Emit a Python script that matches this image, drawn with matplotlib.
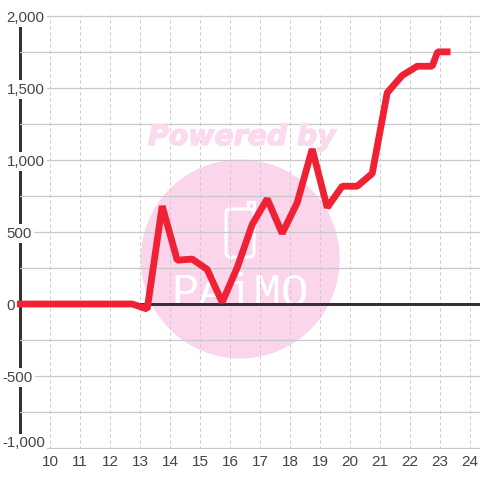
import matplotlib
matplotlib.use("Agg")
import matplotlib.pyplot as plt
import matplotlib.patheffects as pe
from matplotlib.patches import Circle, FancyBboxPatch, PathPatch
from matplotlib.path import Path
from matplotlib.transforms import IdentityTransform, Affine2D

hours = [8.9, 12.74, 13.24, 13.74, 14.24, 14.74, 15.24, 15.74, 16.24, 16.74, 17.24, 17.74,
         18.24, 18.74, 19.24, 19.74, 20.24, 20.74, 21.24, 21.74, 22.24, 22.74, 22.92, 23.35]
values = [0, 0, -35, 680, 304, 312, 240, 12, 253, 552, 730, 490,
          704, 1076, 670, 818, 818, 906, 1467, 1587, 1651, 1651, 1751, 1751]
x_ticks = list(range(10, 25))
y_major = [-1000, -500, 0, 500, 1000, 1500, 2000]
y_minor = [-750, -250, 250, 750, 1250, 1750]
y_labels = ["-1,000", "-500", "0", "500", "1,000", "1,500", "2,000"]

DARK = "#333333"
GRID = "#c8c8c8"
TEXT = "#444444"
RED = "#f02035"
PINK = "#fbd5ec"
H = 480
px = 0.72

plt.rcParams["font.family"] = "Liberation Sans"
fig = plt.figure(figsize=(4.8, 4.8), dpi=100, facecolor="white")
top_px, bot_px, left_px = 15.0, 449.0, 20.0
x10_px, y0_px = 50.0, 304.0
ax = fig.add_axes([left_px / 480, 1 - bot_px / 480, 1 - left_px / 480, (bot_px - top_px) / 480])
scale_x, scale_y = 30.0, 144 / 1000
ax.set_xlim(10 + (left_px - x10_px) / scale_x, 10 + (480 - x10_px) / scale_x)
ax.set_ylim((y0_px - bot_px) / scale_y, (y0_px - top_px) / scale_y)
ax.set_axisbelow(True)

for name in ("top", "right", "bottom"):
    ax.spines[name].set_visible(False)
ax.spines["left"].set_bounds(-1000, 2000)
ax.spines["left"].set_linewidth(3 * px)
ax.spines["left"].set_color(DARK)
ax.spines["left"].set_zorder(0.4)

ax.set_xticks(x_ticks)
ax.set_yticks(y_major)
ax.set_yticks(y_minor, minor=True)
ax.set_yticklabels(y_labels)
ax.tick_params(axis="both", which="both", length=0)
ax.tick_params(axis="x", labelsize=11, labelcolor=TEXT, pad=4.5)
ax.tick_params(axis="y", labelsize=10.8, labelcolor=TEXT)
ax.grid(axis="y", which="both", color=GRID, lw=px * 1.2, ls="-")
ax.grid(axis="x", which="major", color=GRID, lw=px, ls=(0, (3, 3)))

for tick, lab in zip(ax.yaxis.get_major_ticks(), y_labels):
    start = 2 if lab.startswith("-") else 6.5
    tick.set_pad((left_px - start) * px)
    tick.label1.set_ha("left")
    tick.label1.set_bbox(dict(facecolor="white", edgecolor="none", pad=1.6))
    if lab == "-1,000":
        tick.label1.set_transform(tick.label1.get_transform() + Affine2D().translate(0, 6.5))

# watermark
idt = IdentityTransform()
ax.add_patch(Circle((240.2, H - 259), 99.5, transform=idt, fc=PINK, ec="none", zorder=0.1, clip_on=False))
ax.add_patch(FancyBboxPatch((226, H - 257), 28, 48, boxstyle="round,pad=0,rounding_size=4", transform=idt,
                            fc="none", ec="white", lw=3 * px, zorder=0.2, clip_on=False))
ax.add_patch(PathPatch(Path([(248, H - 208), (248, H - 202), (254, H - 202), (254, H - 210)]), transform=idt,
                       fc="none", ec="white", lw=3 * px, zorder=0.2, clip_on=False))
fig.text(148 / 480, 1 - 145 / 480, "Powered by", family="DejaVu Sans", weight="bold", style="oblique",
         fontsize=20.4, color="#fbd9ee", zorder=0.2, ha="left", va="baseline",
         path_effects=[pe.withStroke(linewidth=1.0, foreground="#fbd9ee")])
ax.text(240, H - 306, "PAiMO", transform=idt, family="Liberation Mono", fontsize=33, color="white",
        ha="center", va="baseline", zorder=0.2, clip_on=False)

ax.axhline(0, color=DARK, lw=3 * px, zorder=1)
ax.plot(hours, values, color=RED, lw=6.8 * px, solid_joinstyle="bevel", solid_capstyle="butt",
        clip_on=False, zorder=3)

fig.savefig("out.png", dpi=100)
